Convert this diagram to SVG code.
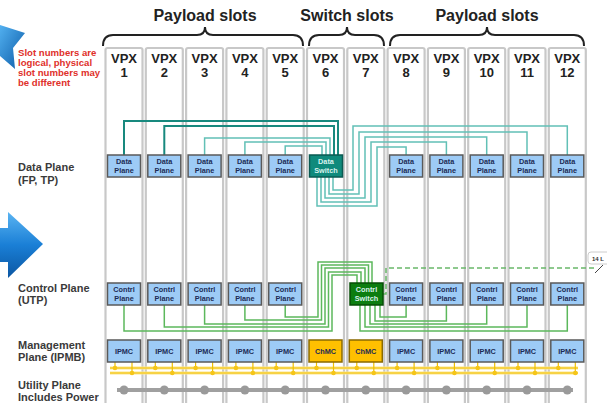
<svg xmlns="http://www.w3.org/2000/svg" width="607" height="403" viewBox="0 0 607 403">
  <defs>
    <linearGradient id="arrowFill" x1="0" y1="0" x2="0" y2="1">
      <stop offset="0" stop-color="#5ab4f2"/>
      <stop offset="0.5" stop-color="#1a7fd6"/>
      <stop offset="1" stop-color="#0b56a2"/>
    </linearGradient>
    <linearGradient id="starFill" x1="0" y1="0" x2="1" y2="1">
      <stop offset="0" stop-color="#52b0f0"/>
      <stop offset="1" stop-color="#0a5aa6"/>
    </linearGradient>
    <style>
      .slot { fill: #ffffff; stroke: #c8c8c8; stroke-width: 2.2; }
      .hdr { font-family: "Liberation Sans", Arial, sans-serif; font-weight: bold; font-size: 16px; fill: #222; text-anchor: middle; }
      .brace { fill: none; stroke: #222; stroke-width: 2; }
      .vpx { font-family: "Liberation Sans", Arial, sans-serif; font-weight: bold; font-size: 13px; fill: #222; text-anchor: middle; }
      .lbl { font-family: "Liberation Sans", Arial, sans-serif; font-weight: bold; font-size: 11px; fill: #3a3a3a; }
      .note { font-family: "Liberation Sans", Arial, sans-serif; font-weight: bold; font-size: 9.6px; fill: #e0302a; }
      .box { fill: #9dcbf6; stroke: #5a5a5a; stroke-width: 1.5; }
      .bt { font-family: "Liberation Sans", Arial, sans-serif; font-weight: bold; font-size: 7.3px; fill: #1c2b55; text-anchor: middle; }
      .dsw { fill: #0f8a7c; stroke: #0a5a52; stroke-width: 1.5; }
      .csw { fill: #0c7d10; stroke: #064d06; stroke-width: 1.5; }
      .swt { font-family: "Liberation Sans", Arial, sans-serif; font-weight: bold; font-size: 7.3px; fill: #d8f2ee; text-anchor: middle; }
      .chmc { fill: #ffc000; stroke: #8a6a00; stroke-width: 1.5; }
      .dp { fill: none; stroke: #62c0b6; stroke-width: 1.5; }
      .dpk { fill: none; stroke: #18897e; stroke-width: 2; }
      .cp { fill: none; stroke: #5cb85c; stroke-width: 1.5; }
      .bus { fill: none; stroke: #fde58a; stroke-width: 3; }
      .busc { fill: none; stroke: #f0c000; stroke-width: 1; }
      .stub { stroke: #f0c000; stroke-width: 1.2; }
      .busdot { fill: #f5c518; }
      .pwr { fill: #9a9a9a; }
    </style>
  </defs>

  <rect width="607" height="403" fill="#ffffff"/>

  <!-- left-hand arrows -->
  <polygon points="0,25 25,33 13,48 15,69 0,56" fill="url(#starFill)"/>
  <polygon points="0,228 8,228 8,212 43,244 8,278 8,262 0,262" fill="url(#arrowFill)"/>

  <!-- plane labels -->
  <g id="plane-labels">
    <text class="lbl" x="18" y="171">Data Plane</text>
    <text class="lbl" x="18" y="184">(FP, TP)</text>
    <text class="lbl" x="18" y="292">Control Plane</text>
    <text class="lbl" x="18" y="304">(UTP)</text>
    <text class="lbl" x="18" y="349">Management</text>
    <text class="lbl" x="18" y="361">Plane (IPMB)</text>
    <text class="lbl" x="18" y="389">Utility Plane</text>
    <text class="lbl" x="18" y="401">Includes Power</text>
  </g>

  <!-- slot group headers -->
  <g id="headers">
    <text class="hdr" x="205" y="21">Payload slots</text>
    <text class="hdr" x="347" y="21">Switch slots</text>
    <text class="hdr" x="487" y="21">Payload slots</text>
    <path class="brace" d="M103,46 Q103,35 113,35 H197 Q205,35 205,27 Q205,35 213,35 H293 Q303,35 303,46"/>
    <path class="brace" d="M309,46 Q309,35 319,35 H339 Q347,35 347,27 Q347,35 355,35 H374 Q384,35 384,46"/>
    <path class="brace" d="M390,46 Q390,35 400,35 H479 Q487,35 487,27 Q487,35 495,35 H574 Q584,35 584,46"/>
  </g>

  <!-- slot columns -->
  <g id="slots">
    <rect class="slot" x="105.5" y="48" width="37" height="362" rx="2"/>
    <rect class="slot" x="145.8" y="48" width="37" height="362" rx="2"/>
    <rect class="slot" x="186.1" y="48" width="37" height="362" rx="2"/>
    <rect class="slot" x="226.4" y="48" width="37" height="362" rx="2"/>
    <rect class="slot" x="266.7" y="48" width="37" height="362" rx="2"/>
    <rect class="slot" x="307" y="48" width="37" height="362" rx="2"/>
    <rect class="slot" x="347.3" y="48" width="37" height="362" rx="2"/>
    <rect class="slot" x="387.6" y="48" width="37" height="362" rx="2"/>
    <rect class="slot" x="427.9" y="48" width="37" height="362" rx="2"/>
    <rect class="slot" x="468.2" y="48" width="37" height="362" rx="2"/>
    <rect class="slot" x="508.5" y="48" width="37" height="362" rx="2"/>
    <rect class="slot" x="548.8" y="48" width="37" height="362" rx="2"/>
    <text class="vpx" x="124" y="63">VPX</text><text class="vpx" x="124" y="77">1</text>
    <text class="vpx" x="164.3" y="63">VPX</text><text class="vpx" x="164.3" y="77">2</text>
    <text class="vpx" x="204.6" y="63">VPX</text><text class="vpx" x="204.6" y="77">3</text>
    <text class="vpx" x="244.9" y="63">VPX</text><text class="vpx" x="244.9" y="77">4</text>
    <text class="vpx" x="285.2" y="63">VPX</text><text class="vpx" x="285.2" y="77">5</text>
    <text class="vpx" x="325.5" y="63">VPX</text><text class="vpx" x="325.5" y="77">6</text>
    <text class="vpx" x="365.8" y="63">VPX</text><text class="vpx" x="365.8" y="77">7</text>
    <text class="vpx" x="406.1" y="63">VPX</text><text class="vpx" x="406.1" y="77">8</text>
    <text class="vpx" x="446.4" y="63">VPX</text><text class="vpx" x="446.4" y="77">9</text>
    <text class="vpx" x="486.7" y="63">VPX</text><text class="vpx" x="486.7" y="77">10</text>
    <text class="vpx" x="527" y="63">VPX</text><text class="vpx" x="527" y="77">11</text>
    <text class="vpx" x="567.3" y="63">VPX</text><text class="vpx" x="567.3" y="77">12</text>
  </g>

  <!-- slot note, drawn over the first column edge -->
  <g id="note">
    <text class="note" x="18" y="56">Slot numbers are</text>
    <text class="note" x="18" y="66">logical, physical</text>
    <text class="note" x="18" y="76">slot numbers may</text>
    <text class="note" x="18" y="86">be different</text>
  </g>

  <!-- connectors -->
  <g id="connectors">
    <!-- data plane: payload slots 1-5 into the data switch top -->
    <path class="dpk" d="M124,155 V121 H338 V155"/>
    <path class="dpk" d="M164.3,155 V126 H334 V155"/>
    <path class="dp" d="M204.6,155 V138 H330 V155"/>
    <path class="dp" d="M244.9,155 V142 H326 V155"/>
    <path class="dp" d="M285.2,155 V146 H322 V155"/>
    <!-- data plane: payload slots 8-12 into the data switch bottom -->
    <path class="dp" d="M406.1,155 V147 H377 V206 H317 V177"/>
    <path class="dp" d="M446.4,155 V142 H371 V202 H321 V177"/>
    <path class="dp" d="M486.7,155 V137 H365 V198 H325 V177"/>
    <path class="dp" d="M527,155 V132 H359 V194 H329 V177"/>
    <path class="dp" d="M567.3,155 V126 H353 V190 H333 V177"/>

    <!-- control plane: slots 1-5 into the control switch top -->
    <path class="cp" d="M124,305 V331 H332 V275 H357 V283"/>
    <path class="cp" d="M164.3,305 V327 H328.5 V272 H361 V283"/>
    <path class="cp" d="M204.6,305 V324 H325 V268 H365 V283"/>
    <path class="cp" d="M244.9,305 V320 H321.5 V265 H368.5 V283"/>
    <path class="cp" d="M285.2,305 V317 H318 V262 H372 V283"/>
    <!-- control plane: slots 8-12 into the control switch bottom -->
    <path class="cp" d="M406.1,305 V317 H380 V305"/>
    <path class="cp" d="M446.4,305 V321 H375 V305"/>
    <path class="cp" d="M486.7,305 V324 H370 V305"/>
    <path class="cp" d="M527,305 V327 H365 V305"/>
    <path class="cp" d="M567.3,305 V331 H360 V305"/>
    <!-- off-board control link -->
    <path d="M383,294 H386 V268 H597" fill="none" stroke="#6ab86a" stroke-width="1.5" stroke-dasharray="5,3"/>

    <!-- IPMB bus -->
    <path class="bus" d="M110,368 H578"/>
    <path class="bus" d="M110,373 H578"/>
    <path class="busc" d="M110,368 H578"/>
    <path class="busc" d="M110,373 H578"/>

    <!-- utility / power rail -->
    <path d="M117,390 H573" stroke="#a0a0a0" stroke-width="4" fill="none"/>
  </g>

  <!-- bus taps and power taps -->
  <g id="taps">
    <g class="stub">
      <line x1="115" y1="362" x2="115" y2="368"/><line x1="132" y1="362" x2="132" y2="373"/>
      <line x1="155.3" y1="362" x2="155.3" y2="368"/><line x1="172.3" y1="362" x2="172.3" y2="373"/>
      <line x1="195.6" y1="362" x2="195.6" y2="368"/><line x1="212.6" y1="362" x2="212.6" y2="373"/>
      <line x1="235.9" y1="362" x2="235.9" y2="368"/><line x1="252.9" y1="362" x2="252.9" y2="373"/>
      <line x1="276.2" y1="362" x2="276.2" y2="368"/><line x1="293.2" y1="362" x2="293.2" y2="373"/>
      <line x1="316.5" y1="362" x2="316.5" y2="368"/><line x1="333.5" y1="362" x2="333.5" y2="373"/>
      <line x1="356.8" y1="362" x2="356.8" y2="368"/><line x1="373.8" y1="362" x2="373.8" y2="373"/>
      <line x1="397.1" y1="362" x2="397.1" y2="368"/><line x1="414.1" y1="362" x2="414.1" y2="373"/>
      <line x1="437.4" y1="362" x2="437.4" y2="368"/><line x1="454.4" y1="362" x2="454.4" y2="373"/>
      <line x1="477.7" y1="362" x2="477.7" y2="368"/><line x1="494.7" y1="362" x2="494.7" y2="373"/>
      <line x1="518" y1="362" x2="518" y2="368"/><line x1="535" y1="362" x2="535" y2="373"/>
      <line x1="558.3" y1="362" x2="558.3" y2="368"/><line x1="575.3" y1="362" x2="575.3" y2="373"/>
    </g>
    <g class="busdot">
      <circle cx="115" cy="368" r="2.3"/><circle cx="132" cy="373" r="2.3"/>
      <circle cx="155.3" cy="368" r="2.3"/><circle cx="172.3" cy="373" r="2.3"/>
      <circle cx="195.6" cy="368" r="2.3"/><circle cx="212.6" cy="373" r="2.3"/>
      <circle cx="235.9" cy="368" r="2.3"/><circle cx="252.9" cy="373" r="2.3"/>
      <circle cx="276.2" cy="368" r="2.3"/><circle cx="293.2" cy="373" r="2.3"/>
      <circle cx="316.5" cy="368" r="2.3"/><circle cx="333.5" cy="373" r="2.3"/>
      <circle cx="356.8" cy="368" r="2.3"/><circle cx="373.8" cy="373" r="2.3"/>
      <circle cx="397.1" cy="368" r="2.3"/><circle cx="414.1" cy="373" r="2.3"/>
      <circle cx="437.4" cy="368" r="2.3"/><circle cx="454.4" cy="373" r="2.3"/>
      <circle cx="477.7" cy="368" r="2.3"/><circle cx="494.7" cy="373" r="2.3"/>
      <circle cx="518" cy="368" r="2.3"/><circle cx="535" cy="373" r="2.3"/>
      <circle cx="558.3" cy="368" r="2.3"/><circle cx="575.3" cy="373" r="2.3"/>
    </g>
    <g class="pwr">
      <circle cx="124" cy="390" r="4.5"/><circle cx="164.3" cy="390" r="4.5"/>
      <circle cx="204.6" cy="390" r="4.5"/><circle cx="244.9" cy="390" r="4.5"/>
      <circle cx="285.2" cy="390" r="4.5"/><circle cx="325.5" cy="390" r="4.5"/>
      <circle cx="365.8" cy="390" r="4.5"/><circle cx="406.1" cy="390" r="4.5"/>
      <circle cx="446.4" cy="390" r="4.5"/><circle cx="486.7" cy="390" r="4.5"/>
      <circle cx="527" cy="390" r="4.5"/><circle cx="567.3" cy="390" r="4.5"/>
    </g>
  </g>

  <!-- data plane nodes -->
  <g id="dp1"><rect class="box" x="107.5" y="155" width="33" height="22"/><text class="bt" x="124" y="164">Data</text><text class="bt" x="124" y="173">Plane</text></g>
  <g id="dp2"><rect class="box" x="147.8" y="155" width="33" height="22"/><text class="bt" x="164.3" y="164">Data</text><text class="bt" x="164.3" y="173">Plane</text></g>
  <g id="dp3"><rect class="box" x="188.1" y="155" width="33" height="22"/><text class="bt" x="204.6" y="164">Data</text><text class="bt" x="204.6" y="173">Plane</text></g>
  <g id="dp4"><rect class="box" x="228.4" y="155" width="33" height="22"/><text class="bt" x="244.9" y="164">Data</text><text class="bt" x="244.9" y="173">Plane</text></g>
  <g id="dp5"><rect class="box" x="268.7" y="155" width="33" height="22"/><text class="bt" x="285.2" y="164">Data</text><text class="bt" x="285.2" y="173">Plane</text></g>
  <g id="data-switch"><rect class="dsw" x="309.5" y="155" width="33" height="22"/><text class="swt" x="326" y="164">Data</text><text class="swt" x="326" y="173">Switch</text></g>
  <g id="dp8"><rect class="box" x="389.6" y="155" width="33" height="22"/><text class="bt" x="406.1" y="164">Data</text><text class="bt" x="406.1" y="173">Plane</text></g>
  <g id="dp9"><rect class="box" x="429.9" y="155" width="33" height="22"/><text class="bt" x="446.4" y="164">Data</text><text class="bt" x="446.4" y="173">Plane</text></g>
  <g id="dp10"><rect class="box" x="470.2" y="155" width="33" height="22"/><text class="bt" x="486.7" y="164">Data</text><text class="bt" x="486.7" y="173">Plane</text></g>
  <g id="dp11"><rect class="box" x="510.5" y="155" width="33" height="22"/><text class="bt" x="527" y="164">Data</text><text class="bt" x="527" y="173">Plane</text></g>
  <g id="dp12"><rect class="box" x="550.8" y="155" width="33" height="22"/><text class="bt" x="567.3" y="164">Data</text><text class="bt" x="567.3" y="173">Plane</text></g>

  <!-- control plane nodes -->
  <g id="cp1"><rect class="box" x="107.5" y="283" width="33" height="22"/><text class="bt" x="124" y="292">Contrl</text><text class="bt" x="124" y="301">Plane</text></g>
  <g id="cp2"><rect class="box" x="147.8" y="283" width="33" height="22"/><text class="bt" x="164.3" y="292">Contrl</text><text class="bt" x="164.3" y="301">Plane</text></g>
  <g id="cp3"><rect class="box" x="188.1" y="283" width="33" height="22"/><text class="bt" x="204.6" y="292">Contrl</text><text class="bt" x="204.6" y="301">Plane</text></g>
  <g id="cp4"><rect class="box" x="228.4" y="283" width="33" height="22"/><text class="bt" x="244.9" y="292">Contrl</text><text class="bt" x="244.9" y="301">Plane</text></g>
  <g id="cp5"><rect class="box" x="268.7" y="283" width="33" height="22"/><text class="bt" x="285.2" y="292">Contrl</text><text class="bt" x="285.2" y="301">Plane</text></g>
  <g id="control-switch"><rect class="csw" x="350" y="283" width="33" height="22"/><text class="swt" x="366.5" y="292">Contrl</text><text class="swt" x="366.5" y="301">Switch</text></g>
  <g id="cp8"><rect class="box" x="389.6" y="283" width="33" height="22"/><text class="bt" x="406.1" y="292">Contrl</text><text class="bt" x="406.1" y="301">Plane</text></g>
  <g id="cp9"><rect class="box" x="429.9" y="283" width="33" height="22"/><text class="bt" x="446.4" y="292">Contrl</text><text class="bt" x="446.4" y="301">Plane</text></g>
  <g id="cp10"><rect class="box" x="470.2" y="283" width="33" height="22"/><text class="bt" x="486.7" y="292">Contrl</text><text class="bt" x="486.7" y="301">Plane</text></g>
  <g id="cp11"><rect class="box" x="510.5" y="283" width="33" height="22"/><text class="bt" x="527" y="292">Contrl</text><text class="bt" x="527" y="301">Plane</text></g>
  <g id="cp12"><rect class="box" x="550.8" y="283" width="33" height="22"/><text class="bt" x="567.3" y="292">Contrl</text><text class="bt" x="567.3" y="301">Plane</text></g>

  <!-- management plane nodes -->
  <g id="ipmc1"><rect class="box" x="107.5" y="340" width="33" height="22"/><text class="bt" x="124" y="354">IPMC</text></g>
  <g id="ipmc2"><rect class="box" x="147.8" y="340" width="33" height="22"/><text class="bt" x="164.3" y="354">IPMC</text></g>
  <g id="ipmc3"><rect class="box" x="188.1" y="340" width="33" height="22"/><text class="bt" x="204.6" y="354">IPMC</text></g>
  <g id="ipmc4"><rect class="box" x="228.4" y="340" width="33" height="22"/><text class="bt" x="244.9" y="354">IPMC</text></g>
  <g id="ipmc5"><rect class="box" x="268.7" y="340" width="33" height="22"/><text class="bt" x="285.2" y="354">IPMC</text></g>
  <g id="chmc6"><rect class="chmc" x="309" y="340" width="33" height="22"/><text class="bt" x="325.5" y="354" fill="#3a2a00">ChMC</text></g>
  <g id="chmc7"><rect class="chmc" x="349.3" y="340" width="33" height="22"/><text class="bt" x="365.8" y="354" fill="#3a2a00">ChMC</text></g>
  <g id="ipmc8"><rect class="box" x="389.6" y="340" width="33" height="22"/><text class="bt" x="406.1" y="354">IPMC</text></g>
  <g id="ipmc9"><rect class="box" x="429.9" y="340" width="33" height="22"/><text class="bt" x="446.4" y="354">IPMC</text></g>
  <g id="ipmc10"><rect class="box" x="470.2" y="340" width="33" height="22"/><text class="bt" x="486.7" y="354">IPMC</text></g>
  <g id="ipmc11"><rect class="box" x="510.5" y="340" width="33" height="22"/><text class="bt" x="527" y="354">IPMC</text></g>
  <g id="ipmc12"><rect class="box" x="550.8" y="340" width="33" height="22"/><text class="bt" x="567.3" y="354">IPMC</text></g>

  <!-- off-board link tag -->
  <g id="link-tag">
    <rect x="588" y="252" width="24" height="12" rx="3" fill="#ffffff" stroke="#cccccc" stroke-width="1"/>
    <text x="592" y="261" font-family="Liberation Sans, Arial, sans-serif" font-size="6" font-weight="bold" fill="#333">14 L</text>
    <line x1="595" y1="273" x2="603" y2="265" stroke="#444" stroke-width="1"/>
  </g>
</svg>
